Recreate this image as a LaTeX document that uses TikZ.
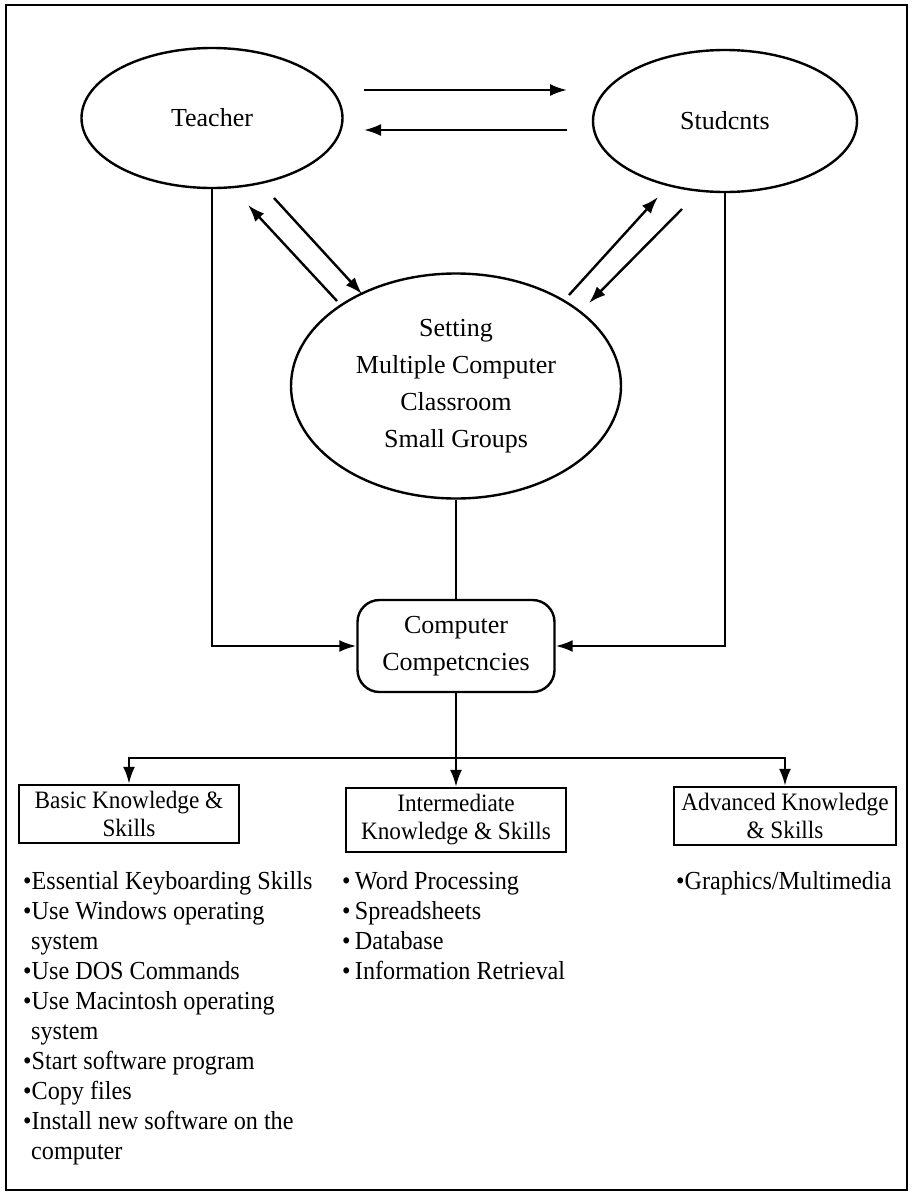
\documentclass[tikz,border=0pt]{standalone}
\usepackage{fontspec}
\setmainfont{Liberation Serif}
\newfontfamily\narrowserif{Liberation Serif}[FakeStretch=0.93]
\usetikzlibrary{shapes.geometric,arrows.meta}
\begin{document}
\begin{tikzpicture}[x=1pt,y=-1pt,
  line width=2.4pt,
  tip/.style={-{Latex[length=17pt,width=12pt]}},
  oval/.style={ellipse,draw,inner sep=0pt,font=\fontsize{26}{37}\selectfont,align=center},
  levelbox/.style={rectangle,draw,inner sep=0pt,font=\narrowserif\fontsize{25}{28}\selectfont,align=center},
  itemlist/.style={anchor=north west,inner sep=0pt,align=left,font=\narrowserif\fontsize{26}{30}\selectfont},
]
% page and outer frame
\useasboundingbox (0,0) rectangle (912,1200);
\draw[line width=2.8pt] (6,5) rectangle (907,1190);

% actors and setting
\node[oval,minimum width=261pt,minimum height=140pt] (teacher) at (212,118) {Teacher};
\node[oval,minimum width=264pt,minimum height=142pt] (students) at (725,121) {Studcnts};
\node[oval,minimum width=330pt,minimum height=225pt] (setting) at (456,386)
  {Setting\\Multiple Computer\\Classroom\\Small Groups};

% competencies box
\node[rectangle,rounded corners=22pt,draw,minimum width=197pt,minimum height=92pt,
  inner sep=0pt,align=center,font=\fontsize{26}{37}\selectfont] (comp) at (456,646)
  {Computer\\Competcncies};

% level boxes
\node[levelbox,minimum width=220pt,minimum height=58pt] (basic) at (129,814) {Basic Knowledge \&\\Skills};
\node[levelbox,minimum width=220pt,minimum height=64pt] (inter) at (456,820) {Intermediate\\Knowledge \& Skills};
\node[levelbox,minimum width=222pt,minimum height=58pt] (adv) at (785,816) {Advanced Knowledge\\\& Skills};

% connection points
\coordinate (tA) at (364,90);  \coordinate (sA) at (567,90);
\coordinate (sB) at (567,130); \coordinate (tB) at (364,130);
\coordinate (d1a) at (337,301); \coordinate (d1b) at (248,205);
\coordinate (d2a) at (274,198); \coordinate (d2b) at (362,294);
\coordinate (d3a) at (569,295); \coordinate (d3b) at (658,197);
\coordinate (d4a) at (682,209); \coordinate (d4b) at (589,303);
\coordinate (bus) at (456,758);

% teacher <-> students
\draw[tip] (tA) -- (sA);
\draw[tip] (sB) -- (tB);
% teacher/students <-> setting
\draw[tip] (d1a) -- (d1b);
\draw[tip] (d2a) -- (d2b);
\draw[tip] (d3a) -- (d3b);
\draw[tip] (d4a) -- (d4b);

% lines into the competencies box
\draw[tip] (teacher.south) |- (comp.west);
\draw[tip] (students.south) |- (comp.east);
\draw (setting.south) -- (comp.north);

% distribution to the three levels
\draw (comp.south) -- (bus);
\draw[tip] (bus) -- (inter.north);
\draw[tip] (bus) -| (basic.north);
\draw[tip] (bus) -| (adv.north);

% skill lists
\node[itemlist] (basiclist) at (22,870) {%
  •Essential Keyboarding Skills\\
  •Use Windows operating\\
  \hspace*{8pt}system\\
  •Use DOS Commands\\
  •Use Macintosh operating\\
  \hspace*{8pt}system\\
  •Start software program\\
  •Copy files\\
  •Install new software on the\\
  \hspace*{8pt}computer};
\node[itemlist] (interlist) at (341,870) {%
  •\,Word Processing\\
  •\,Spreadsheets\\
  •\,Database\\
  •\,Information Retrieval};
\node[itemlist] (advlist) at (675,870) {•Graphics/Multimedia};
\end{tikzpicture}
\end{document}
